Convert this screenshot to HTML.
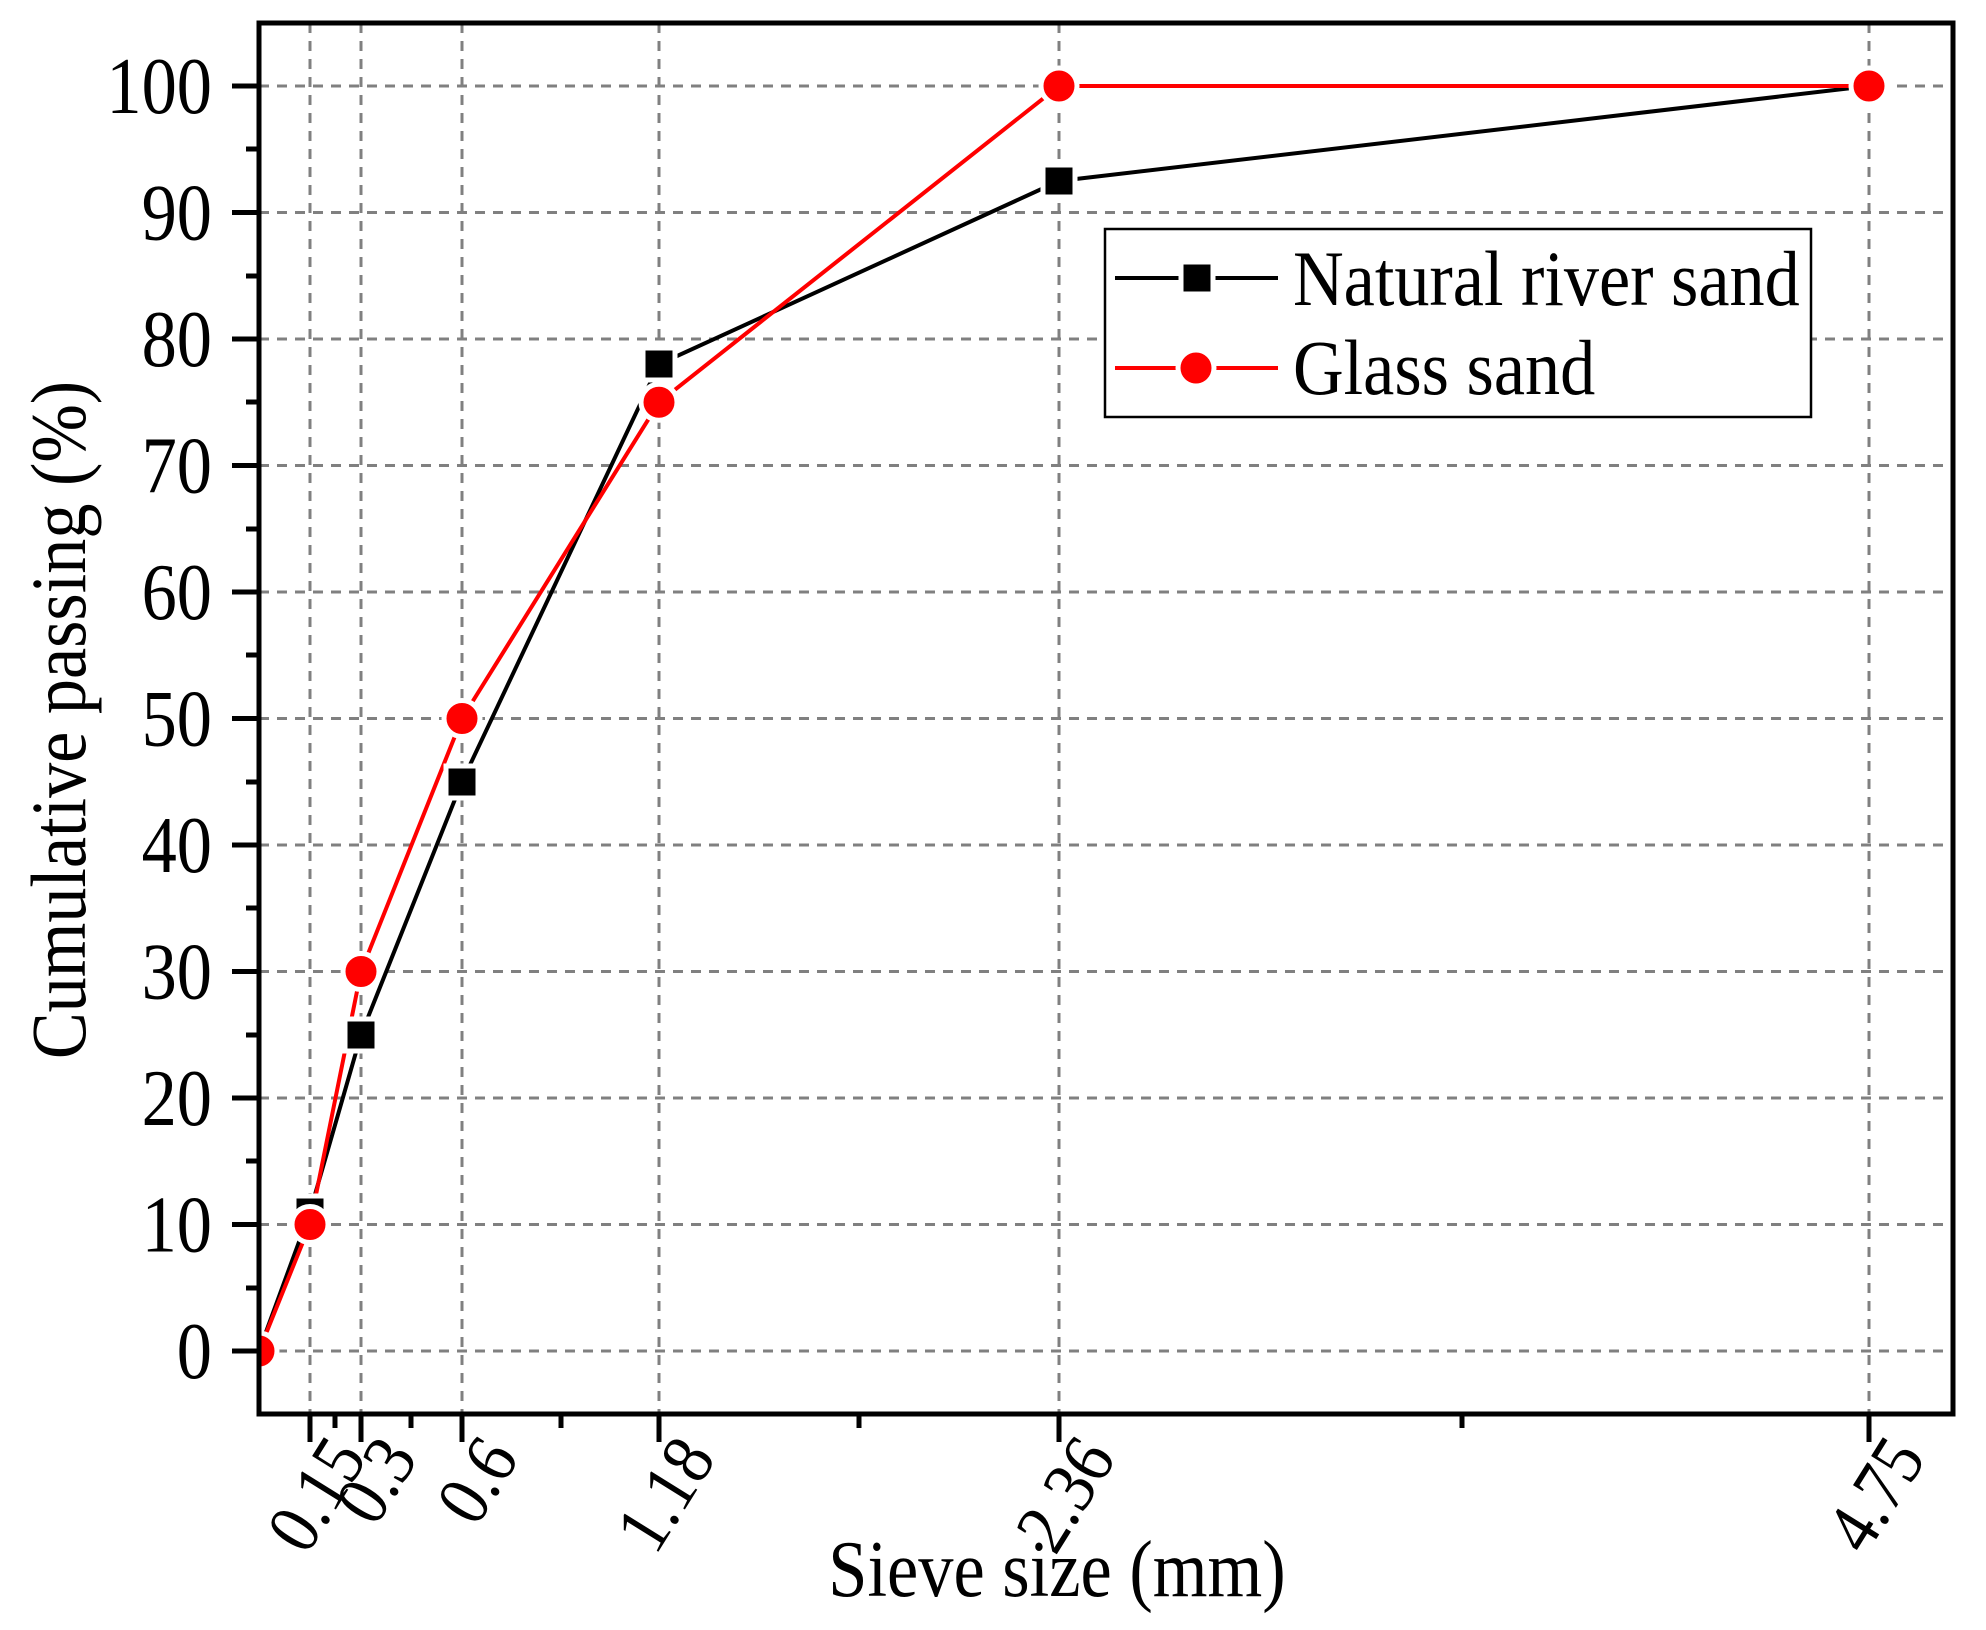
<!DOCTYPE html>
<html><head><meta charset="utf-8"><style>
html,body{margin:0;padding:0;background:#fff;}
svg{display:block;}
text{font-family:"Liberation Serif","Times New Roman",serif;fill:#000;}
</style></head><body>
<svg width="1986" height="1630" viewBox="0 0 1986 1630" xmlns="http://www.w3.org/2000/svg">
<defs><clipPath id="c"><rect x="259" y="23" width="1694" height="1391"/></clipPath></defs>
<g stroke="#808080" stroke-width="3" stroke-dasharray="10,8" fill="none">
<line x1="259" x2="1953" y1="86" y2="86"/>
<line x1="259" x2="1953" y1="212.5" y2="212.5"/>
<line x1="259" x2="1953" y1="339" y2="339"/>
<line x1="259" x2="1953" y1="465.5" y2="465.5"/>
<line x1="259" x2="1953" y1="592" y2="592"/>
<line x1="259" x2="1953" y1="718.5" y2="718.5"/>
<line x1="259" x2="1953" y1="845" y2="845"/>
<line x1="259" x2="1953" y1="971.5" y2="971.5"/>
<line x1="259" x2="1953" y1="1098" y2="1098"/>
<line x1="259" x2="1953" y1="1224.5" y2="1224.5"/>
<line x1="259" x2="1953" y1="1351" y2="1351"/>
<line x1="310" x2="310" y1="23" y2="1414"/>
<line x1="361" x2="361" y1="23" y2="1414"/>
<line x1="462" x2="462" y1="23" y2="1414"/>
<line x1="659" x2="659" y1="23" y2="1414"/>
<line x1="1059" x2="1059" y1="23" y2="1414"/>
<line x1="1869" x2="1869" y1="23" y2="1414"/>
</g>
<g clip-path="url(#c)">
<polyline fill="none" stroke="#000" stroke-width="4" points="259,1351 310,1211.9 361,1034.8 462,781.8 659,364.3 1059,181 1869,86"/>
<polyline fill="none" stroke="#f00" stroke-width="4" points="259,1351 310,1224.5 361,971.5 462,718.5 659,402.3 1059,86 1869,86"/>
<g fill="#000" stroke="#fff" stroke-width="5">
<rect x="243" y="1335" width="32" height="32"/>
<rect x="294" y="1196" width="32" height="32"/>
<rect x="345" y="1019" width="32" height="32"/>
<rect x="446" y="766" width="32" height="32"/>
<rect x="643" y="348" width="32" height="32"/>
<rect x="1043" y="165" width="32" height="32"/>
<rect x="1853" y="70" width="32" height="32"/>
</g>
<g fill="#f00" stroke="#fff" stroke-width="5">
<circle cx="259" cy="1351" r="18"/>
<circle cx="310" cy="1224.5" r="18"/>
<circle cx="361" cy="971.5" r="18"/>
<circle cx="462" cy="718.5" r="18"/>
<circle cx="659" cy="402.3" r="18"/>
<circle cx="1059" cy="86" r="18"/>
<circle cx="1869" cy="86" r="18"/>
</g>
</g>
<rect x="1105" y="229" width="706" height="188" fill="#fff" stroke="#000" stroke-width="2.5"/>
<line x1="1115" x2="1278" y1="278" y2="278" stroke="#000" stroke-width="4"/>
<rect x="1181" y="262" width="32" height="32" fill="#000" stroke="#fff" stroke-width="5"/>
<line x1="1115" x2="1278" y1="368" y2="368" stroke="#f00" stroke-width="4"/>
<circle cx="1196" cy="368" r="18" fill="#f00" stroke="#fff" stroke-width="5"/>
<text transform="translate(1293,305) scale(0.9,1)" font-size="78">Natural river sand</text>
<text transform="translate(1293,394) scale(0.9,1)" font-size="78">Glass sand</text>
<rect x="259" y="23" width="1694" height="1391" fill="none" stroke="#000" stroke-width="5"/>
<g stroke="#000" stroke-width="5">
<line x1="232" x2="259" y1="86" y2="86"/><line x1="246" x2="259" y1="149" y2="149"/>
<line x1="232" x2="259" y1="212.5" y2="212.5"/><line x1="246" x2="259" y1="276" y2="276"/>
<line x1="232" x2="259" y1="339" y2="339"/><line x1="246" x2="259" y1="402" y2="402"/>
<line x1="232" x2="259" y1="465.5" y2="465.5"/><line x1="246" x2="259" y1="529" y2="529"/>
<line x1="232" x2="259" y1="592" y2="592"/><line x1="246" x2="259" y1="655" y2="655"/>
<line x1="232" x2="259" y1="718.5" y2="718.5"/><line x1="246" x2="259" y1="782" y2="782"/>
<line x1="232" x2="259" y1="845" y2="845"/><line x1="246" x2="259" y1="908" y2="908"/>
<line x1="232" x2="259" y1="971.5" y2="971.5"/><line x1="246" x2="259" y1="1035" y2="1035"/>
<line x1="232" x2="259" y1="1098" y2="1098"/><line x1="246" x2="259" y1="1161" y2="1161"/>
<line x1="232" x2="259" y1="1224.5" y2="1224.5"/><line x1="246" x2="259" y1="1288" y2="1288"/>
<line x1="232" x2="259" y1="1351" y2="1351"/>
<line x1="310" x2="310" y1="1414" y2="1442"/><line x1="335" x2="335" y1="1414" y2="1428"/>
<line x1="361" x2="361" y1="1414" y2="1442"/><line x1="411" x2="411" y1="1414" y2="1428"/>
<line x1="462" x2="462" y1="1414" y2="1442"/><line x1="561" x2="561" y1="1414" y2="1428"/>
<line x1="659" x2="659" y1="1414" y2="1442"/><line x1="859" x2="859" y1="1414" y2="1428"/>
<line x1="1059" x2="1059" y1="1414" y2="1442"/><line x1="1462" x2="1462" y1="1414" y2="1428"/>
<line x1="1869" x2="1869" y1="1414" y2="1442"/>
</g>
<g font-size="80" text-anchor="end">
<text transform="translate(212,113) scale(0.88,1)">100</text>
<text transform="translate(212,239.5) scale(0.88,1)">90</text>
<text transform="translate(212,366) scale(0.88,1)">80</text>
<text transform="translate(212,492.5) scale(0.88,1)">70</text>
<text transform="translate(212,619) scale(0.88,1)">60</text>
<text transform="translate(212,745.5) scale(0.88,1)">50</text>
<text transform="translate(212,872) scale(0.88,1)">40</text>
<text transform="translate(212,998.5) scale(0.88,1)">30</text>
<text transform="translate(212,1125) scale(0.88,1)">20</text>
<text transform="translate(212,1251.5) scale(0.88,1)">10</text>
<text transform="translate(212,1378) scale(0.88,1)">0</text>
</g>
<g font-size="74" text-anchor="end">
<text transform="translate(368,1458) rotate(-58) scale(0.9,1)">0.15</text>
<text transform="translate(419,1458) rotate(-58) scale(0.9,1)">0.3</text>
<text transform="translate(520,1458) rotate(-58) scale(0.9,1)">0.6</text>
<text transform="translate(717,1458) rotate(-58) scale(0.9,1)">1.18</text>
<text transform="translate(1117,1458) rotate(-58) scale(0.9,1)">2.36</text>
<text transform="translate(1927,1458) rotate(-58) scale(0.9,1)">4.75</text>
</g>
<text transform="translate(1057,1596) scale(0.88,1)" font-size="80" text-anchor="middle">Sieve size (mm)</text>
<text transform="translate(85,720) rotate(-90) scale(0.9,1)" font-size="78" text-anchor="middle">Cumulative passing (%)</text>
</svg>
</body></html>
